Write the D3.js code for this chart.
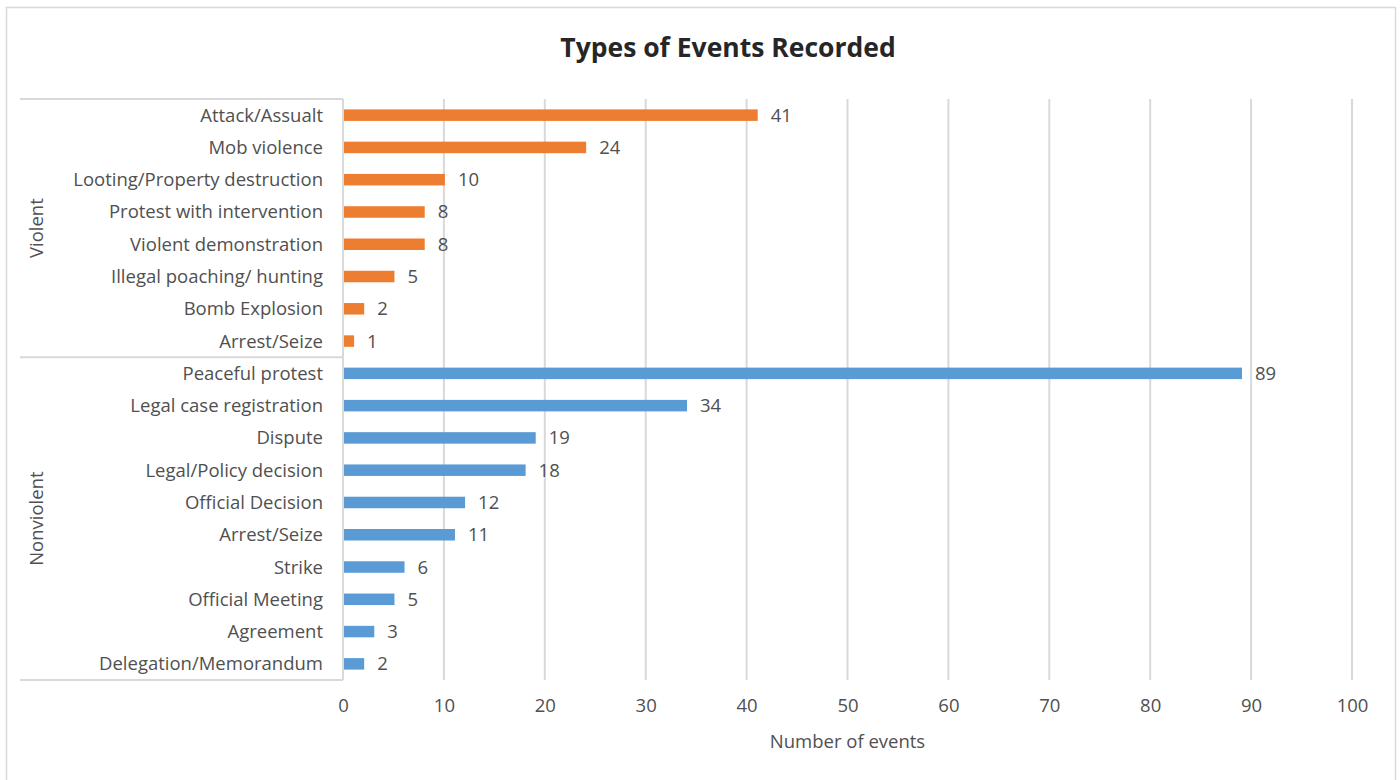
<!DOCTYPE html>
<html><head><meta charset="utf-8">
<script src="https://cdn.jsdelivr.net/npm/d3@7"></script>
<style>body{margin:0;background:#fff;}svg{display:block;}</style>
</head><body>
<script>
const categories = ["Attack/Assualt","Mob violence","Looting/Property destruction","Protest with intervention","Violent demonstration","Illegal poaching/ hunting","Bomb Explosion","Arrest/Seize","Peaceful protest","Legal case registration","Dispute","Legal/Policy decision","Official Decision","Arrest/Seize","Strike","Official Meeting","Agreement","Delegation/Memorandum"];
const groups = ["Violent","Violent","Violent","Violent","Violent","Violent","Violent","Violent","Nonviolent","Nonviolent","Nonviolent","Nonviolent","Nonviolent","Nonviolent","Nonviolent","Nonviolent","Nonviolent","Nonviolent"];
const values = [41,24,10,8,8,5,2,1,89,34,19,18,12,11,6,5,3,2];
const groupNames = ["Violent","Nonviolent"];
const groupColors = ["#ED7D31","#5B9BD5"];
const xTicks = [0,10,20,30,40,50,60,70,80,90,100];
const title = "Types of Events Recorded";
const xTitle = "Number of events";

const W=1400,H=780;
const svg=d3.select("body").append("svg").attr("width",W).attr("height",H);
const font="'Open Sans', sans-serif";
const fs=18.5;
const tc="#505050";
svg.append("rect").attr("x",6.5).attr("y",7.5).attr("width",1389).attr("height",790).attr("fill","#fff").attr("stroke","#d9d9d9").attr("stroke-width",1.5);

const x=d3.scaleLinear().domain([0,100]).range([343,1352]);
const idx=d3.range(categories.length);
const y=d3.scaleBand().domain(idx).range([99,680]);
const color=d3.scaleOrdinal().domain(groupNames).range(groupColors);

svg.append("g").selectAll("line").data(xTicks.filter(d=>d>0)).join("line")
 .attr("x1",d=>x(d)).attr("x2",d=>x(d)).attr("y1",99).attr("y2",680)
 .attr("stroke","#d9d9d9").attr("stroke-width",2);

const bh=11.5;
svg.append("g").selectAll("rect").data(idx).join("rect")
 .attr("x",x(0)+1).attr("y",i=>y(i)+y.bandwidth()/2-bh/2)
 .attr("width",i=>x(values[i])-x(0)).attr("height",bh)
 .attr("fill",i=>color(groups[i]));

svg.append("g").selectAll("text").data(idx).join("text")
 .attr("x",i=>x(values[i])+14).attr("y",i=>y(i)+y.bandwidth()/2)
 .attr("dy","0.35em").attr("font-family",font).attr("font-size",fs).attr("fill",tc)
 .text(i=>values[i]);

svg.append("line").attr("x1",343).attr("x2",343).attr("y1",99).attr("y2",680).attr("stroke","#d9d9d9").attr("stroke-width",2);
svg.append("g").selectAll("text").data(idx).join("text")
 .attr("x",323).attr("y",i=>y(i)+y.bandwidth()/2).attr("dy","0.35em")
 .attr("text-anchor","end").attr("font-family",font).attr("font-size",fs).attr("fill",tc)
 .text(i=>categories[i]);

const bounds=[];
groupNames.forEach(g=>{
  const ii=idx.filter(i=>groups[i]===g);
  bounds.push({g,top:y(ii[0]),bot:y(ii[ii.length-1])+y.bandwidth()});
});
const seps=[99].concat(bounds.map(b=>b.bot));
svg.append("g").selectAll("line").data(seps).join("line")
 .attr("x1",20).attr("x2",343).attr("y1",d=>d).attr("y2",d=>d)
 .attr("stroke","#d9d9d9").attr("stroke-width",2);
svg.append("g").selectAll("text").data(bounds).join("text")
 .attr("transform",b=>`translate(43,${(b.top+b.bot)/2}) rotate(-90)`)
 .attr("text-anchor","middle").attr("font-family",font).attr("font-size",fs).attr("fill",tc)
 .text(b=>b.g);

const xa=d3.axisBottom(x).tickValues(xTicks).tickSize(0).tickPadding(0);
const gx=svg.append("g").attr("transform","translate(0,706)").call(xa);
gx.select(".domain").remove();
gx.selectAll("text").attr("font-family",font).attr("font-size",fs).attr("fill",tc).attr("dy","0.35em");

svg.append("text").attr("x",x(50)).attr("y",742).attr("dy","0.35em").attr("text-anchor","middle")
 .attr("font-family",font).attr("font-size",fs).attr("fill",tc).text(xTitle);
svg.append("text").attr("x",728).attr("y",48).attr("dy","0.35em").attr("text-anchor","middle")
 .attr("font-family",font).attr("font-size",26.5).attr("font-weight","bold").attr("fill","#262626").text(title);
</script>
</body></html>
